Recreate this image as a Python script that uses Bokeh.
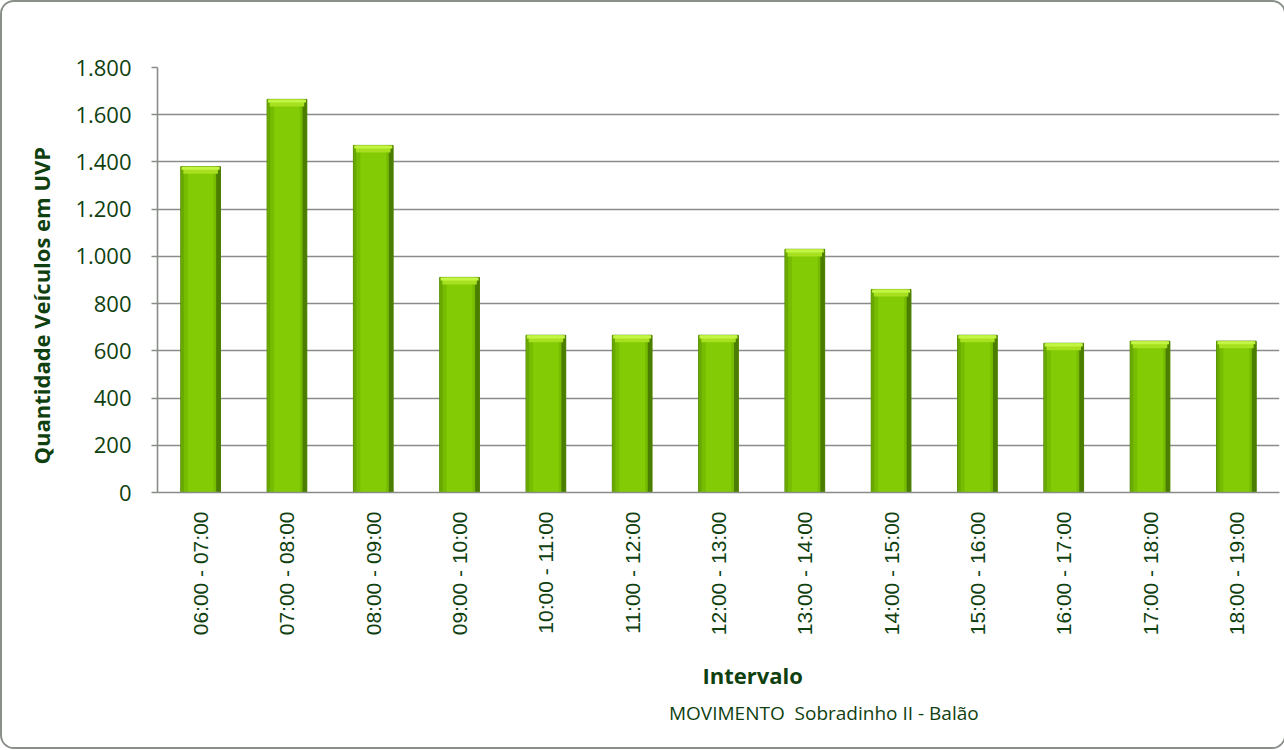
from bokeh.plotting import figure
from bokeh.layouts import column
from bokeh.models import (ColumnDataSource, FactorRange, FixedTicker, Title, Label,
                          Legend, LegendItem, Range1d)
from bokeh.transform import dodge
from bokeh.embed import file_html
from bokeh.resources import INLINE
import math

categories = ["06:00 - 07:00", "07:00 - 08:00", "08:00 - 09:00", "09:00 - 10:00",
              "10:00 - 11:00", "11:00 - 12:00", "12:00 - 13:00", "13:00 - 14:00",
              "14:00 - 15:00", "15:00 - 16:00", "16:00 - 17:00", "17:00 - 18:00",
              "18:00 - 19:00"]
values = [1380, 1665, 1470, 911, 666, 666, 666, 1030, 860, 666, 632, 641, 641]
y_ticks = [0, 200, 400, 600, 800, 1000, 1200, 1400, 1600, 1800]
series_name = "MOVIMENTO  Sobradinho II - Balão"
x_title = "Intervalo"
y_title = "Quantidade  Veículos em UVP"

TXT = "#103f10"
GRID = "#888d88"
FONT = "Open Sans"
BAR = "#76bc00"
BAR_LINE = "#4f8200"

cap_h = 30
src = ColumnDataSource(dict(
    cat=categories, val=values,
    cap_bot=[v - cap_h for v in values],
    cap2_bot=[v - cap_h * 0.45 for v in values],
))

# ---------------- main chart ----------------
p = figure(frame_width=1122, frame_height=425,
           x_range=FactorRange(*categories, range_padding=0),
           y_range=(0, 1800), output_backend="svg", toolbar_location=None,
           min_border_left=155, min_border_top=65, min_border_right=5,
           min_border_bottom=160)
p.outline_line_color = None
p.background_fill_color = "white"
p.border_fill_color = "white"

p.xgrid.grid_line_color = None
p.ygrid.grid_line_color = GRID
p.ygrid.grid_line_width = 1.6
p.ygrid.ticker = FixedTicker(ticks=y_ticks)

# bars (layered for a 3D cylinder-like look)
p.vbar(x="cat", top="val", width=0.46, source=src,
       fill_color=BAR, line_color=BAR_LINE, line_width=1)
p.vbar(x="cat", top="val", width=0.30, source=src, fill_color="#82cb05", line_color=None)
p.vbar(x=dodge("cat", 0.205, range=p.x_range), top="val", width=0.05, source=src,
       fill_color="#4b7d00", line_color=None)
p.vbar(x=dodge("cat", -0.212, range=p.x_range), top="val", width=0.035, source=src,
       fill_color="#68a800", line_color=None)
p.vbar(x="cat", top="val", bottom="cap_bot", width=0.40, source=src,
       fill_color="#a6e01e", line_color=None)
p.vbar(x="cat", top="val", bottom="cap2_bot", width=0.44, source=src,
       fill_color="#c4f545", line_color=None)

# y axis
ya = p.yaxis[0]
ya.ticker = FixedTicker(ticks=y_ticks)
ya.major_label_overrides = {t: f"{t:,}".replace(",", ".") for t in y_ticks}
ya.axis_line_color = GRID
ya.axis_line_width = 1.6
ya.major_tick_line_color = GRID
ya.major_tick_line_width = 1.6
ya.major_tick_in = 0
ya.major_tick_out = 6
ya.minor_tick_line_color = None
ya.major_label_text_font = FONT
ya.major_label_text_font_size = "22px"
ya.major_label_text_color = TXT
ya.major_label_standoff = 20

yt = Title(text=y_title, align="left", offset=28, text_font=FONT,
           text_font_size="22px", text_font_style="bold", text_color=TXT, standoff=33)
p.add_layout(yt, "left")

# x axis
xa = p.xaxis[0]
xa.axis_line_color = GRID
xa.axis_line_width = 1.6
xa.major_tick_line_color = None
xa.major_tick_out = 0
xa.major_tick_in = 0
xa.major_label_orientation = math.pi / 2
xa.major_label_text_font = "Liberation Sans"
xa.major_label_text_font_size = "21px"
xa.major_label_text_color = TXT
xa.major_label_standoff = 19

# ---------------- bottom strip: axis title + legend ----------------
W2, H2 = 1282, 95
p2 = figure(width=W2, height=H2, x_range=Range1d(0, W2), y_range=Range1d(0, H2),
            output_backend="svg", toolbar_location=None,
            x_axis_location=None, y_axis_location=None, min_border=0)
p2.outline_line_color = None
p2.background_fill_color = "white"
p2.border_fill_color = "white"
p2.grid.grid_line_color = None

p2.add_layout(Label(x=680, y=73, text=x_title, text_font=FONT, text_font_size="22px",
                    text_font_style="bold", text_color=TXT, text_align="center",
                    text_baseline="middle"))

leg_r = p2.vbar(x=[], top=[], width=0.46, fill_color=BAR, line_color=BAR_LINE, line_width=1)
legend = Legend(items=[LegendItem(label=series_name, renderers=[leg_r])],
                location=(489, 21), orientation="horizontal",
                border_line_color=None, background_fill_alpha=0,
                label_text_font=FONT, label_text_font_size="19px", label_text_color=TXT,
                glyph_width=18, glyph_height=17, label_standoff=5, padding=0, margin=0,
                spacing=0)
p2.add_layout(legend)

layout = column(p, p2, spacing=0,
                styles={"border": "2px solid #8a8f8a", "border-radius": "14px",
                        "overflow": "hidden"})

open("out.html", "w").write(file_html(layout, INLINE))
